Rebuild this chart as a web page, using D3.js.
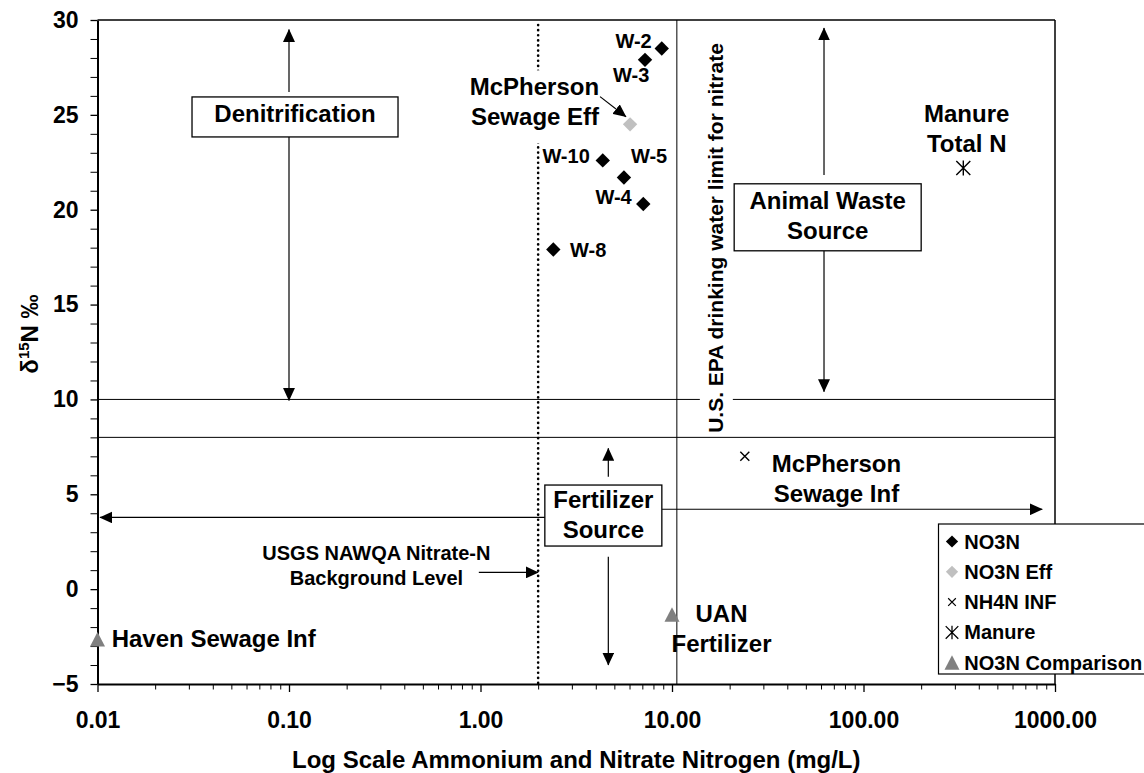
<!DOCTYPE html>
<html>
<head>
<meta charset="utf-8">
<script src="https://cdn.jsdelivr.net/npm/d3@7"></script>
<style>
  body { margin: 0; background: #fff; }
  svg text { font-family: "Liberation Sans", Arial, Helvetica, sans-serif; font-weight: bold; fill: #000; }
</style>
</head>
<body>
<svg id="chart" width="1144" height="773"></svg>
<script>
// ---- Data -------------------------------------------------------------
// Monitoring wells: nitrate-N (mg/L) and delta 15N (per mil)
const wellIds     = ["W-2", "W-3", "W-10", "W-5", "W-4", "W-8"];
const wellNitrate = [8.84, 7.23, 4.35, 5.61, 7.08, 2.40];
const wellD15N    = [28.5, 27.9, 22.6, 21.7, 20.3, 17.9];

// McPherson sewage effluent (nitrate)
const effNitrate = [6.04];
const effD15N    = [24.5];

// McPherson sewage influent (ammonium)
const infAmmonium = [24.0];
const infD15N     = [7.0];

// Manure total N
const manureN    = [332];
const manureD15N = [22.2];

// Comparison nitrate sources
const compNames   = ["Haven Sewage Inf", "UAN Fertilizer"];
const compNitrate = [0.01, 10.0];
const compD15N    = [-2.65, -1.35];

// Reference levels
const backgroundNitrate = 2.0;   // USGS NAWQA nitrate-N background
const epaLine = 10.6;            // drinking water limit line as drawn
const sourceBounds = [10, 8];    // delta 15N source-zone boundaries

// Axis ticks
const xTickValues = [0.01, 0.1, 1, 10, 100, 1000];
const yTickValues = [-5, 0, 5, 10, 15, 20, 25, 30];

const legendNames = ["NO3N", "NO3N Eff", "NH4N INF", "Manure", "NO3N Comparison"];

// ---- Layout -----------------------------------------------------------
const svg = d3.select("#chart");
const plotL = 97.5, plotR = 1055, plotT = 20, plotB = 684;

const x = d3.scaleLog().domain([0.01, 1000]).range([plotL, plotR]);
const y = d3.scaleLinear().domain([-5, 30]).range([plotB, plotT]);

// arrow head marker
svg.append("defs").append("marker")
  .attr("id", "head")
  .attr("markerUnits", "userSpaceOnUse")
  .attr("viewBox", "0 0 13 12")
  .attr("markerWidth", 13).attr("markerHeight", 12)
  .attr("refX", 12.5).attr("refY", 6)
  .attr("orient", "auto")
  .append("path").attr("d", "M0,0 L13,6 L0,12 Z").attr("fill", "#000");

// ---- Axes -------------------------------------------------------------
const minorX = [];
for (let k = -2; k <= 2; k++) for (let m = 2; m <= 9; m++) minorX.push(m * Math.pow(10, k));
const minorY = d3.range(-5, 31, 1).filter(v => v % 5 !== 0);

svg.append("g").attr("transform", `translate(0,${plotB})`)
  .call(d3.axisBottom(x).tickValues(minorX).tickSize(5.5).tickSizeOuter(0).tickFormat(""))
  .call(g => g.select(".domain").remove())
  .call(g => g.selectAll("line").attr("stroke", "#000").attr("stroke-width", 1));

svg.append("g").attr("transform", `translate(${plotL},0)`)
  .call(d3.axisLeft(y).tickValues(minorY).tickSize(7).tickSizeOuter(0).tickFormat(""))
  .call(g => g.select(".domain").remove())
  .call(g => g.selectAll("line").attr("stroke", "#000").attr("stroke-width", 1));

const xAxis = svg.append("g").attr("transform", `translate(0,${plotB})`)
  .call(d3.axisBottom(x).tickValues(xTickValues).tickSize(8).tickSizeOuter(0)
        .tickPadding(20).tickFormat(d3.format(".2f")));
xAxis.select(".domain").attr("stroke", "#000").attr("stroke-width", 2.2);
xAxis.selectAll("line").attr("stroke", "#000").attr("stroke-width", 1.3);
xAxis.selectAll("text").style("font-size", "23px").attr("fill", "#000");

const yAxis = svg.append("g").attr("transform", `translate(${plotL},0)`)
  .call(d3.axisLeft(y).tickValues(yTickValues).tickSize(7).tickSizeOuter(0).tickPadding(12));
yAxis.select(".domain").attr("stroke", "#000").attr("stroke-width", 2);
yAxis.selectAll("line").attr("stroke", "#000").attr("stroke-width", 1.3);
yAxis.selectAll("text").style("font-size", "23px").attr("fill", "#000");

// frame top and right
svg.append("line").attr("x1", plotL).attr("x2", plotR).attr("y1", plotT).attr("y2", plotT)
  .attr("stroke", "#000").attr("stroke-width", 1.5);
svg.append("line").attr("x1", plotR).attr("x2", plotR).attr("y1", plotT).attr("y2", plotB)
  .attr("stroke", "#000").attr("stroke-width", 1.5);

// axis titles
svg.append("text")
  .attr("x", (plotL + plotR) / 2).attr("y", 768)
  .attr("text-anchor", "middle").style("font-size", "24px")
  .text("Log Scale Ammonium and Nitrate Nitrogen (mg/L)");

const yTitle = svg.append("text")
  .attr("transform", "translate(38,334) rotate(-90)")
  .attr("text-anchor", "middle").style("font-size", "24px");
yTitle.append("tspan").text("δ");
yTitle.append("tspan").attr("dy", -9).style("font-size", "15px").text("15");
yTitle.append("tspan").attr("dy", 9).text("N ‰");

// ---- Reference lines ----------------------------------------------------
svg.selectAll("line.bound").data(sourceBounds).enter().append("line")
  .attr("class", "bound")
  .attr("x1", plotL).attr("x2", plotR)
  .attr("y1", d => y(d)).attr("y2", d => y(d))
  .attr("stroke", "#000").attr("stroke-width", 1);

svg.append("line")
  .attr("x1", x(epaLine)).attr("x2", x(epaLine)).attr("y1", plotT).attr("y2", plotB)
  .attr("stroke", "#000").attr("stroke-width", 1);

svg.append("line")
  .attr("x1", x(backgroundNitrate)).attr("x2", x(backgroundNitrate))
  .attr("y1", plotT + 5).attr("y2", plotB)
  .attr("stroke", "#000").attr("stroke-width", 2.6)
  .attr("stroke-linecap", "round").attr("stroke-dasharray", "0.1,5");

// EPA label, vertical with white backing
const epaX = x(epaLine) + 46.5, epaY = 238;
svg.append("rect").attr("x", epaX - 23.5).attr("y", 40).attr("width", 33).attr("height", 396)
  .attr("fill", "#fff");
svg.append("text")
  .attr("transform", `translate(${epaX},${epaY}) rotate(-90)`)
  .attr("text-anchor", "middle").style("font-size", "21px")
  .text("U.S. EPA drinking water limit for nitrate");

// ---- Annotation boxes and arrows ----------------------------------------
const boxes = [
  { lines: ["Denitrification"], cx: 0.1075, cy: 24.89, w: 206, h: 40 },
  { lines: ["Animal Waste", "Source"], cx: 65.0, cy: 19.6, w: 187, h: 67 },
  { lines: ["Fertilizer", "Source"], cx: 4.38, cy: 3.88, w: 117, h: 61 }
];

const arrows = [
  [0.1, 26.2, 0.1, 29.5],
  [0.1, 23.83, 0.1, 9.95],
  [62.2, 21.83, 62.2, 29.58],
  [62.2, 17.82, 62.2, 10.41],
  [4.65, 5.93, 4.65, 7.42],
  [4.65, 1.71, 4.65, -4.0],
  [2.17, 3.78, 0.0103, 3.78],
  [8.87, 4.21, 858, 4.21],
  [0.98, 0.88, 2.0, 0.88],
  [4.21, 25.96, 5.75, 24.9]
];

// white backing behind the effluent label
const effPx = [x(effNitrate[0]), y(effD15N[0])];
svg.append("rect").attr("x", effPx[0] - 162).attr("y", effPx[1] - 54)
  .attr("width", 135).attr("height", 73).attr("fill", "#fff");

svg.selectAll("line.arrow").data(arrows).enter().append("line")
  .attr("class", "arrow")
  .attr("x1", d => x(d[0])).attr("y1", d => y(d[1]))
  .attr("x2", d => x(d[2])).attr("y2", d => y(d[3]))
  .attr("stroke", "#000").attr("stroke-width", 1.2)
  .attr("marker-end", "url(#head)");

const boxG = svg.selectAll("g.box").data(boxes).enter().append("g").attr("class", "box")
  .attr("transform", d => `translate(${x(d.cx)},${y(d.cy)})`);
boxG.append("rect")
  .attr("x", d => -d.w / 2).attr("y", d => -d.h / 2)
  .attr("width", d => d.w).attr("height", d => d.h)
  .attr("fill", "#fff").attr("stroke", "#000").attr("stroke-width", 1.3);
boxG.each(function (d) {
  const g = d3.select(this);
  const base = d.lines.length === 1 ? [5] : [-8, 22];
  d.lines.forEach((t, i) => {
    g.append("text").attr("x", 0).attr("y", base[i])
      .attr("text-anchor", "middle").style("font-size", "24px").text(t);
  });
});

// USGS background label
const usgs = svg.append("text").attr("text-anchor", "middle").style("font-size", "20px");
usgs.append("tspan").attr("x", x(0.286)).attr("y", y(1.54)).text("USGS NAWQA Nitrate-N");
usgs.append("tspan").attr("x", x(0.286)).attr("y", y(1.54) + 25).text("Background Level");

// ---- Marks ----------------------------------------------------------------
const diamond = "M0,-7.2 L7.2,0 L0,7.2 L-7.2,0 Z";
const triangle = "M0,-7.5 L7.5,7 L-7.5,7 Z";
const smallX = "M-4.5,-4.5 L4.5,4.5 M-4.5,4.5 L4.5,-4.5";
const star = "M-7,-7 L7,7 M-7,7 L7,-7 M0,-7.5 L0,7.5";

const wells = wellIds.map((id, i) => ({ id, x: wellNitrate[i], y: wellD15N[i] }));
svg.selectAll("path.well").data(wells).enter().append("path")
  .attr("d", diamond).attr("fill", "#000")
  .attr("transform", d => `translate(${x(d.x)},${y(d.y)})`);

svg.selectAll("path.eff").data(effNitrate).enter().append("path")
  .attr("d", diamond).attr("fill", "#c0c0c0")
  .attr("transform", (d, i) => `translate(${x(d)},${y(effD15N[i])})`);

svg.selectAll("path.inf").data(infAmmonium).enter().append("path")
  .attr("d", smallX).attr("fill", "none").attr("stroke", "#000").attr("stroke-width", 1.4)
  .attr("transform", (d, i) => `translate(${x(d)},${y(infD15N[i])})`);

svg.selectAll("path.manure").data(manureN).enter().append("path")
  .attr("d", star).attr("fill", "none").attr("stroke", "#000").attr("stroke-width", 1.4)
  .attr("transform", (d, i) => `translate(${x(d)},${y(manureD15N[i])})`);

svg.selectAll("path.comp").data(compNitrate).enter().append("path")
  .attr("d", triangle).attr("fill", "#808080")
  .attr("transform", (d, i) => `translate(${x(d)},${y(compD15N[i])})`);

// ---- Point labels -------------------------------------------------------
const wellLabelOffsets = {
  "W-2": [-10, 0, "end"], "W-3": [-32, 22, "start"], "W-10": [-13, 2.6, "end"],
  "W-5": [7, -14.5, "start"], "W-4": [-11.6, 0, "end"], "W-8": [16.7, 7.2, "start"]
};
svg.selectAll("text.well").data(wells).enter().append("text")
  .attr("x", d => x(d.x) + wellLabelOffsets[d.id][0])
  .attr("y", d => y(d.y) + wellLabelOffsets[d.id][1])
  .attr("text-anchor", d => wellLabelOffsets[d.id][2])
  .style("font-size", "20px").text(d => d.id);

function multiLabel(px, py, lines, anchor) {
  const t = svg.append("text").attr("text-anchor", anchor).style("font-size", "24px");
  lines.forEach((s, i) => t.append("tspan").attr("x", px).attr("y", py + i * 30).text(s));
}
multiLabel(effPx[0] - 31, effPx[1] - 29.3, ["McPherson", "Sewage Eff"], "end");
multiLabel(x(manureN[0]) + 3.4, y(manureD15N[0]) - 46.3, ["Manure", "Total N"], "middle");
multiLabel(x(infAmmonium[0]) + 91.7, y(infD15N[0]) + 15.4, ["McPherson", "Sewage Inf"], "middle");
multiLabel(x(compNitrate[1]) + 49.5, y(compD15N[1]) + 7, ["UAN", "Fertilizer"], "middle");
multiLabel(x(compNitrate[0]) + 14.2, y(compD15N[0]) + 7.3, [compNames[0]], "start");

// ---- Legend ---------------------------------------------------------------
const legend = svg.append("g").attr("transform", "translate(938.5,524)");
legend.append("rect").attr("width", 220).attr("height", 150)
  .attr("fill", "#fff").attr("stroke", "#000").attr("stroke-width", 1.2);
const legendMarks = [
  { d: diamond, fill: "#000", stroke: "none", s: 0.85 },
  { d: diamond, fill: "#c0c0c0", stroke: "none", s: 0.85 },
  { d: smallX, fill: "none", stroke: "#000", s: 0.85 },
  { d: star, fill: "none", stroke: "#000", s: 0.9 },
  { d: triangle, fill: "#808080", stroke: "none", s: 1 }
];
legendNames.forEach((name, i) => {
  const cy = 17.5 + i * 30.3;
  legend.append("path").attr("d", legendMarks[i].d)
    .attr("fill", legendMarks[i].fill).attr("stroke", legendMarks[i].stroke)
    .attr("stroke-width", 1.4)
    .attr("transform", `translate(13.5,${cy}) scale(${legendMarks[i].s})`);
  legend.append("text").attr("x", 25.8).attr("y", cy + 7).style("font-size", "20px").text(name);
});
</script>
</body>
</html>
